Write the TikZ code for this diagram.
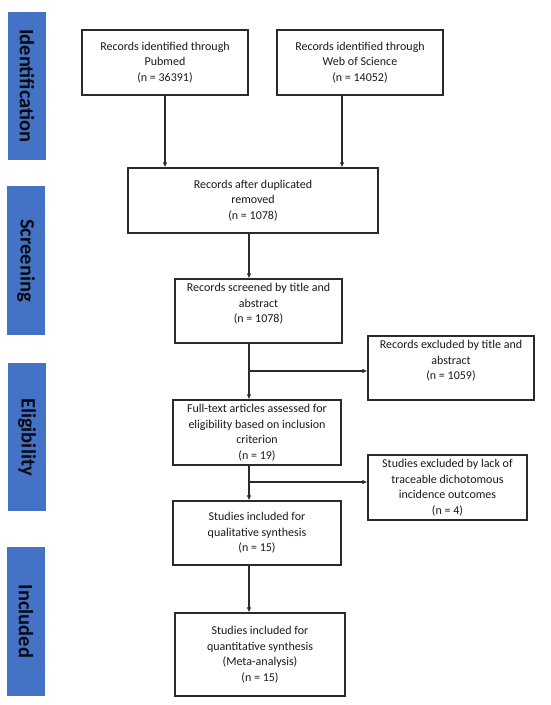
\documentclass[tikz,border=0pt]{standalone}
\usepackage{fontspec}
\setmainfont{Carlito}
\usetikzlibrary{arrows.meta}
\definecolor{barblue}{HTML}{4472C4}
\definecolor{bartext}{HTML}{0A0A14}
\definecolor{edge}{HTML}{2B2B2B}
\begin{document}
\begin{tikzpicture}[x=1pt,y=-1pt,
  box/.style={draw=edge,line width=1.2pt,rectangle,align=center,inner sep=0pt,
    text=black!90,font=\fontsize{12}{15.5}\selectfont},
  bar/.style={fill=barblue,rectangle,rotate=-90,inner sep=0pt,minimum height=38pt,
    text=bartext,font=\fontsize{20.5}{24}\selectfont\bfseries},
  arr/.style={draw=edge,line width=1.2pt,-{Latex[length=5pt,width=4.5pt]}}]
\useasboundingbox (0,0) rectangle (550,705);
% phase bars
\node[bar,minimum width=148pt] (bid) at (27,86) {Identification};
\node[bar,minimum width=149pt] (bsc) at (26,260.5) {Screening};
\node[bar,minimum width=148pt] (bel) at (27,437) {Eligibility};
\node[bar,minimum width=149pt] (bin) at (26,621.5) {Included};
% boxes
\node[box,minimum width=166pt,minimum height=65pt] (pub) at (165,62.5)
  {Records identified through\\Pubmed\\(n = 36391)};
\node[box,minimum width=166pt,minimum height=65pt] (wos) at (360,62.5)
  {Records identified through\\Web of Science\\(n = 14052)};
\node[box,minimum width=250pt,minimum height=65pt] (dup) at (253,200.5)
  {Records after duplicated\\removed\\(n = 1078)};
\node[box,minimum width=167pt,minimum height=64pt] (scr) at (258.5,311)
  {Records screened by title and\\abstract\\(n = 1078)\\\mbox{}};
\node[box,minimum width=166pt,minimum height=64pt] (exa) at (451,368)
  {Records excluded by title and\\abstract\\(n = 1059)\\\mbox{}};
\node[box,minimum width=168pt,minimum height=65pt] (ft) at (257,432.5)
  {Full-text articles assessed for\\eligibility based on inclusion\\criterion\\(n = 19)};
\node[box,minimum width=159pt,minimum height=65pt] (exb) at (447.5,487.5)
  {Studies excluded by lack of\\traceable dichotomous\\incidence outcomes\\(n = 4)};
\node[box,minimum width=168pt,minimum height=64pt] (qual) at (257,533)
  {Studies included for\\qualitative synthesis\\(n = 15)};
\node[box,minimum width=170pt,minimum height=83pt] (quant) at (260,654.5)
  {Studies included for\\quantitative synthesis\\(Meta-analysis)\\(n = 15)};
% spine and branch points
\coordinate (sp) at (249,0);
\coordinate (ba) at (249,371);
\coordinate (bb) at (249,482);
% connectors
\draw[arr] (pub.south) -- (pub.south |- dup.north);
\draw[arr] ([xshift=-18pt]wos.south) -- ([xshift=-18pt]wos.south |- dup.north);
\draw[arr] (dup.south -| sp) -- (scr.north -| sp);
\draw[arr] (scr.south -| sp) -- (ft.north -| sp);
\draw[arr] (ba) -- (ba -| exa.west);
\draw[arr] (ft.south -| sp) -- (qual.north -| sp);
\draw[arr] (bb) -- (bb -| exb.west);
\draw[arr] (qual.south -| sp) -- (quant.north -| sp);
\end{tikzpicture}
\end{document}
